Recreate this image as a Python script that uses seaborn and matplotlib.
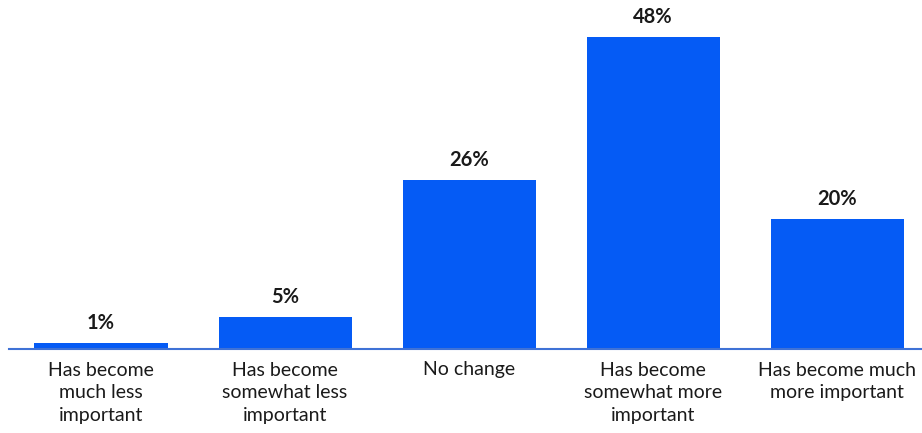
import matplotlib
matplotlib.use("Agg")
import matplotlib.pyplot as plt
import seaborn as sns
import pandas as pd

categories = [
    "Has become\nmuch less\nimportant",
    "Has become\nsomewhat less\nimportant",
    "No change",
    "Has become\nsomewhat more\nimportant",
    "Has become much\nmore important",
]
values = [1, 5, 26, 48, 20]
value_labels = ["1%", "5%", "26%", "48%", "20%"]

sns.set_theme(style="white")
plt.rcParams["font.family"] = ["Lato", "DejaVu Sans"]

df = pd.DataFrame({"category": categories, "value": values})

fig = plt.figure(figsize=(9.22, 4.33), dpi=100)
ax = fig.add_axes([9 / 922, 84 / 433, 1 - 9 / 922, 349 / 433])

sns.barplot(data=df, x="category", y="value", color="#055BF5",
            saturation=1, width=0.723, linewidth=0, ax=ax)

for i, (v, lab) in enumerate(zip(values, value_labels)):
    ax.annotate(lab, (i, v), xytext=(0, 7), textcoords="offset points",
                ha="center", va="bottom", fontsize=14.5, fontweight="bold",
                color="#1a1a1a")

ax.set_xlim(-0.5, 4.46)
ax.set_ylim(0, 53.7)
ax.set_xlabel("")
ax.set_ylabel("")
ax.set_yticks([])
for s in ["top", "right", "left"]:
    ax.spines[s].set_visible(False)
ax.spines["bottom"].set_color("#3f72d6")
ax.spines["bottom"].set_linewidth(1.5)
ax.tick_params(axis="x", length=0, pad=9, labelsize=14, colors="#1a1a1a")
for t in ax.get_xticklabels():
    t.set_linespacing(1.42)
    t.set_va("top")

fig.savefig("out.png", dpi=100)
